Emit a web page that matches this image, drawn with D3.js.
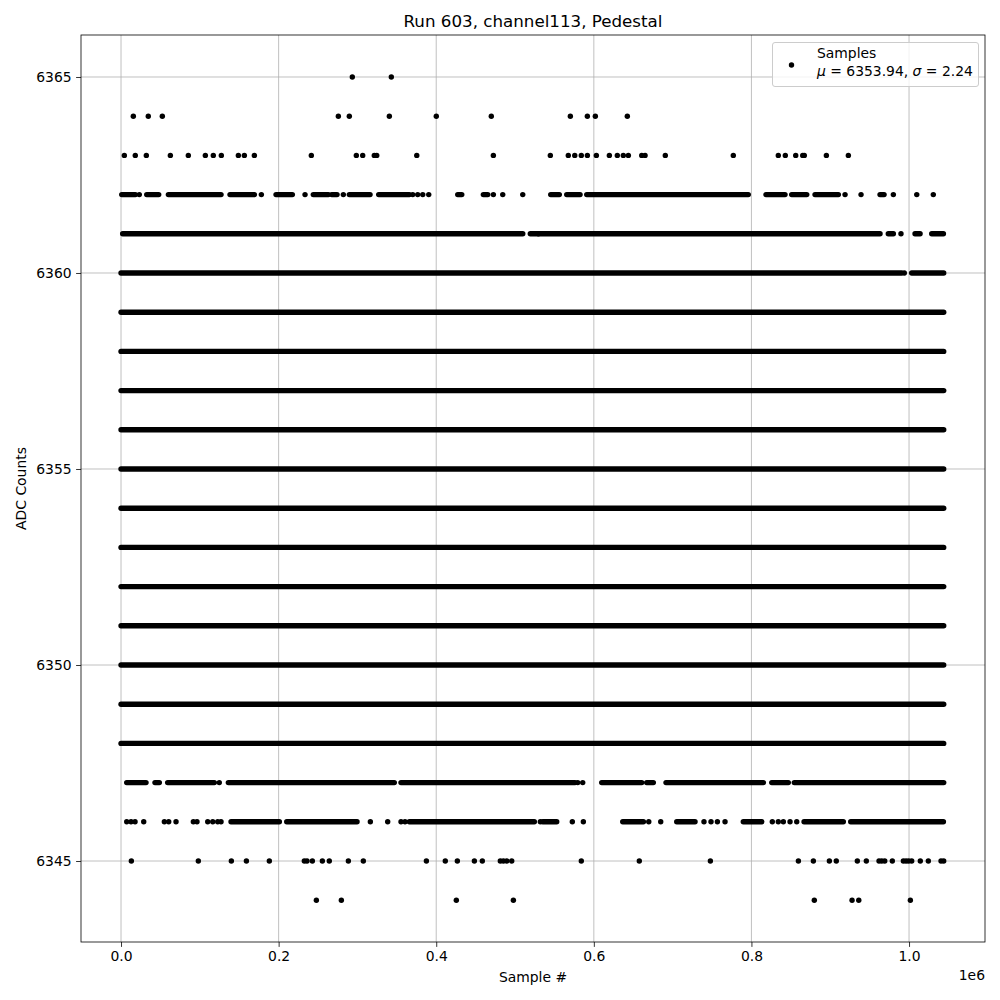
<!DOCTYPE html>
<html>
<head>
<meta charset="utf-8">
<script src="https://cdn.jsdelivr.net/npm/d3@7"></script>
<style>
  html, body { margin: 0; padding: 0; background: #fff; }
  text { font-family: "DejaVu Sans", sans-serif; fill: #000; }
</style>
</head>
<body>
<svg id="chart" width="1000" height="1000"></svg>
<script>
// ---------- DATA (sample positions in thousands of samples) ----------
const title = "Run 603, channel113, Pedestal";
const xLabel = "Sample #";
const yLabel = "ADC Counts";
const xTickValues = [0, 0.2, 0.4, 0.6, 0.8, 1.0];     // x 1e6
const yTickValues = [6345, 6350, 6355, 6360, 6365];
const legendMean = 6353.94;
const legendSigma = 2.24;
const lastSample = 1044;   // k-samples

// Fully dense rows (a sample at almost every position)
const denseRows = [6348, 6349, 6350, 6351, 6352, 6353, 6354, 6355, 6356, 6357, 6358, 6359];

// Partially dense rows: runs of overlapping samples [start, end]
const runs6362 = [[0.9,18.2],[32.6,47.8],[60.1,126.9],[138.3,169.2],[196.7,217.4],[244.0,263.1],[267.4,274.1],
  [289.7,316.0],[327.0,365.9],[427.3,432.4],[459.8,465.4],[545.3,556.2],[565.6,582.5],[591.0,796.0],
  [818.5,842.6],[851.1,870.2],[880.7,910.3],[963.2,968.3]];
const runs6361 = [[2.1,509.8],[519.4,529.6],[529.6,963.2],[973.7,980.1],[1007.6,1014.0],[1028.8,1043.6]];
const runs6360 = [[0,990.7],[1003.4,1044]];
const runs6347 = [[7.2,31.7],[43.1,48.6],[59.2,118.4],[136.2,346.8],[355.3,576.1],[610.0,660.8],[667.1,675.5],
  [691.6,815.1],[825.8,846.8],[854.4,1044]];
const runs6346 = [[139.6,200.9],[210.3,299.5],[365.9,524.5],[535.2,552.9],[636.7,662.9],[705.2,728.4],
  [789.7,813.1],[866.8,916.6],[926.0,1043.6]];

// Isolated samples
const pts6365 = [293.5, 343.0];
const pts6364 = [15.6, 34.6, 52.4, 275.8, 289.7, 340.5, 400.1, 469.9, 570.2, 591.8, 601.9, 642.5];
const pts6363 = [4.2, 18.1, 32.1, 62.6, 85.4, 107.0, 117.1, 127.3, 148.9, 156.5, 169.2, 241.5, 298.6, 306.7,
  321.4, 324.5, 375.3, 472.5, 544.8, 567.6, 575.8, 584.1, 591.8, 603.2, 619.7, 629.8, 637.4, 643.8, 660.8,
  665.0, 690.7, 777.0, 834.1, 843.0, 856.2, 865.1, 867.1, 895.1, 923.0];
const pts6362 = [23.2, 178.1, 233.5, 282.1, 370.2, 376.5, 382.9, 390.5, 472.5, 484.4, 509.8, 918.8, 939.1,
  980.1, 1009.8, 1030.8];
const pts6361 = [989.8];
const pts6360 = [994.0];
const pts6347 = [124.7, 579.6, 585.9];
const pts6346 = [7.2, 12.7, 17.8, 28.8, 55.0, 60.5, 69.8, 91.8, 96.4, 110.0, 116.4, 122.7, 126.9, 316.4,
  338.4, 355.3, 360.4, 532.1, 572.7, 586.7, 669.7, 684.9, 739.8, 748.7, 756.8, 766.5, 826.5, 834.1, 840.5,
  849.0, 857.5];
const pts6345 = [13.1, 98.1, 140.0, 159.1, 188.2, 232.6, 236.0, 242.8, 255.5, 264.3, 288.5, 307.5, 387.5,
  411.5, 426.8, 448.4, 458.5, 481.3, 485.2, 489.5, 495.8, 584.1, 657.7, 747.9, 859.6, 878.6, 898.9, 907.7,
  934.4, 945.8, 961.9, 965.4, 969.2, 978.8, 992.8, 996.2, 999.6, 1003.4, 1014.3, 1024.5, 1040.6, 1044.0];
const pts6344 = [247.9, 279.6, 425.5, 497.9, 879.8, 927.7, 936.2, 1001.7];

// ---------- BUILD ----------
const runRows = [
  { y: 6362, runs: runs6362 }, { y: 6361, runs: runs6361 }, { y: 6360, runs: runs6360 },
  { y: 6347, runs: runs6347 }, { y: 6346, runs: runs6346 }
].concat(denseRows.map(y => ({ y, runs: [[0, lastSample]] })));

const pointRows = [
  { y: 6365, xs: pts6365 }, { y: 6364, xs: pts6364 }, { y: 6363, xs: pts6363 }, { y: 6362, xs: pts6362 },
  { y: 6361, xs: pts6361 }, { y: 6360, xs: pts6360 }, { y: 6347, xs: pts6347 }, { y: 6346, xs: pts6346 },
  { y: 6345, xs: pts6345 }, { y: 6344, xs: pts6344 }
];

const segments = [];
runRows.forEach(r => r.runs.forEach(([a, b]) => segments.push({ y: r.y, x0: a * 1000, x1: b * 1000 })));
const points = [];
pointRows.forEach(r => r.xs.forEach(x => points.push({ y: r.y, x: x * 1000 })));

// ---------- CHART ----------
const svg = d3.select("#chart");
const L = 81, R = 985, T = 35, B = 942;
const x = d3.scaleLinear().domain([-50800, 1096400]).range([L, R]);
const y = d3.scaleLinear().domain([6342.934, 6366.071]).range([B, T]);
const dotR = 2.7;

// grid
const grid = svg.append("g");
grid.selectAll("line.gx").data(xTickValues).join("line")
  .attr("x1", d => x(d * 1e6)).attr("x2", d => x(d * 1e6)).attr("y1", T).attr("y2", B)
  .attr("stroke", "#b0b0b0").attr("stroke-width", 0.8);
grid.selectAll("line.gy").data(yTickValues).join("line")
  .attr("x1", L).attr("x2", R).attr("y1", d => y(d)).attr("y2", d => y(d))
  .attr("stroke", "#b0b0b0").attr("stroke-width", 0.8);

// data
const plot = svg.append("g");
plot.selectAll("line.run").data(segments).join("line")
  .attr("x1", d => x(d.x0)).attr("x2", d => x(d.x1))
  .attr("y1", d => y(d.y)).attr("y2", d => y(d.y))
  .attr("stroke", "#000").attr("stroke-width", dotR * 2).attr("stroke-linecap", "round");
plot.selectAll("circle.pt").data(points).join("circle")
  .attr("cx", d => x(d.x)).attr("cy", d => y(d.y)).attr("r", dotR).attr("fill", "#000");

// axes
const xAxis = d3.axisBottom(x).tickValues(xTickValues.map(v => v * 1e6))
  .tickFormat(v => (v / 1e6).toFixed(1)).tickSize(4.9).tickPadding(4.5);
const yAxis = d3.axisLeft(y).tickValues(yTickValues).tickFormat(d3.format("d"))
  .tickSize(4.9).tickPadding(4.5);
const gx = svg.append("g").attr("transform", `translate(0,${B})`).call(xAxis);
const gy = svg.append("g").attr("transform", `translate(${L},0)`).call(yAxis);
[gx, gy].forEach(g => {
  g.select(".domain").remove();
  g.selectAll("line").attr("stroke", "#000").attr("stroke-width", 0.8);
  g.selectAll("text").attr("font-family", "DejaVu Sans").attr("font-size", "13.9px").attr("fill", "#000");
});

// frame
svg.append("rect").attr("x", L).attr("y", T).attr("width", R - L).attr("height", B - T)
  .attr("fill", "none").attr("stroke", "#000").attr("stroke-width", 0.8);

// labels
svg.append("text").attr("x", (L + R) / 2).attr("y", 27).attr("text-anchor", "middle")
  .attr("font-size", "16.7px").text(title);
svg.append("text").attr("x", (L + R) / 2).attr("y", 981.5).attr("text-anchor", "middle")
  .attr("font-size", "13.9px").text(xLabel);
svg.append("text").attr("transform", `translate(26,${(T + B) / 2}) rotate(-90)`).attr("text-anchor", "middle")
  .attr("font-size", "13.9px").text(yLabel);
svg.append("text").attr("x", R).attr("y", 980).attr("text-anchor", "end")
  .attr("font-size", "13.9px").text("1e6");

// legend
const lg = svg.append("g");
lg.append("rect").attr("x", 772.5).attr("y", 42.5).attr("width", 206).attr("height", 44).attr("rx", 2.5)
  .attr("fill", "#fff").attr("fill-opacity", 0.8).attr("stroke", "#cccccc").attr("stroke-width", 1);
lg.append("circle").attr("cx", 791.5).attr("cy", 65).attr("r", dotR).attr("fill", "#000");
lg.append("text").attr("x", 817).attr("y", 58.3).attr("font-size", "13.9px").text("Samples");
const t2 = lg.append("text").attr("x", 817).attr("y", 76).attr("font-size", "13.9px");
t2.append("tspan").attr("font-style", "italic").text("μ");
t2.append("tspan").text(` = ${legendMean.toFixed(2)}, `);
t2.append("tspan").attr("font-style", "italic").text("σ");
t2.append("tspan").text(` = ${legendSigma.toFixed(2)}`);
</script>
</body>
</html>
